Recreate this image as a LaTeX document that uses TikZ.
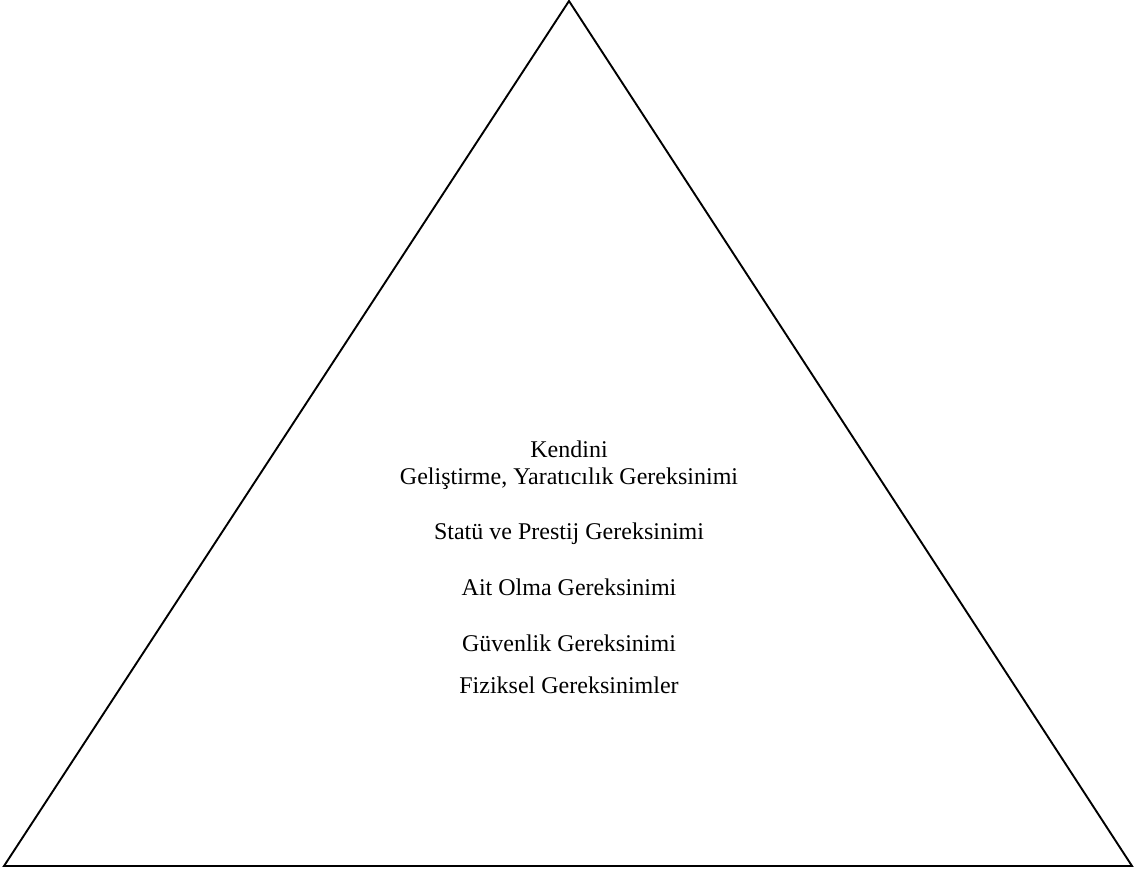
\documentclass[tikz,border=0pt]{standalone}
\usepackage{fontspec}
\setmainfont{Liberation Serif}
\begin{document}
\begin{tikzpicture}[x=0.5pt,y=-0.5pt,
  edge/.style={draw=black,line width=0.95pt,line join=miter},
  level/.style={anchor=base,font=\fontsize{12}{13.5}\selectfont,inner sep=0pt}]
\useasboundingbox (0,0) rectangle (1138,873);
% pyramid outline
\coordinate (apex) at (569,1);
\coordinate (bl) at (4,866);
\coordinate (br) at (1132,866);
\draw[edge] (apex) -- (br) -- (bl) -- cycle;
% hierarchy levels, top to bottom
\node[level] (k1) at (569,457) {Kendini};
\node[level] (k2) at (569,484) {Geliştirme, Yaratıcılık Gereksinimi};
\node[level] (s) at (569,539) {Statü ve Prestij Gereksinimi};
\node[level] (a) at (569,595) {Ait Olma Gereksinimi};
\node[level] (g) at (569,651) {Güvenlik Gereksinimi};
\node[level] (f) at (569,693) {Fiziksel Gereksinimler};
\end{tikzpicture}
\end{document}
